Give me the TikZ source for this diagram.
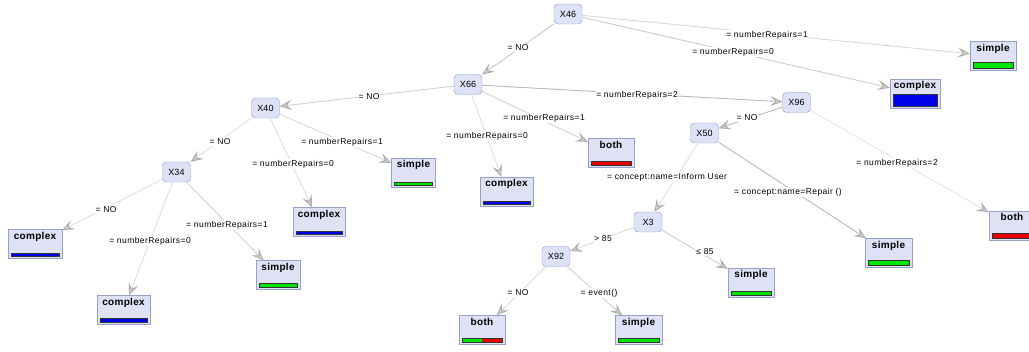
\documentclass[tikz,border=0pt]{standalone}
\usepackage{fontspec}
\setmainfont{Liberation Sans}
\newfontfamily\lblfont[LetterSpace=5]{Liberation Sans}
\newfontfamily\leaffont[LetterSpace=3]{Liberation Sans}
\usetikzlibrary{arrows.meta,calc}
\definecolor{nfill}{RGB}{221,226,246}
\definecolor{nline}{RGB}{138,152,200}
\definecolor{lfill}{RGB}{222,226,244}
\definecolor{lline}{RGB}{150,160,200}
\definecolor{bgreen}{RGB}{0,230,0}
\definecolor{bblue}{RGB}{0,0,235}
\definecolor{bred}{RGB}{235,0,0}
\newcommand\leafbar[3]{\draw[barline, fill=#2] ($(#1.south west)+(3,-2)$) rectangle ($(#1.south east)+(-3,-2-#3)$);}
\begin{document}
\begin{tikzpicture}[x=1pt,y=-1pt,
  inode/.style={draw=nline, fill=nfill, rounded corners=4pt, minimum width=28pt, minimum height=20pt, inner sep=0pt, font=\fontsize{9}{10}\selectfont},
  leaf/.style={draw=lline, fill=lfill, minimum height=29pt, inner xsep=0pt, inner ysep=1.5pt, text height=8.5pt, text depth=17.5pt, font=\leaffont\bfseries\fontsize{10}{11}\selectfont},
  conn/.style={draw=gray!45, line width=0.9pt, -{Stealth[length=12pt,width=10pt,inset=5pt,color=gray!65,fill=gray!35]}},
  lbl/.style={fill=white, inner sep=0.6pt, font=\lblfont\fontsize{8.5}{10}\selectfont},
  barline/.style={draw=black!80, line width=0.6pt}]
\useasboundingbox (0,0) rectangle (1029,352);
% internal nodes
\node[inode] (x46) at (568,14) {X46};
\node[inode] (x66) at (468,84.5) {X66};
\node[inode] (x40) at (265.5,108) {X40};
\node[inode] (x34) at (176.5,172) {X34};
\node[inode] (x96) at (796.5,102.5) {X96};
\node[inode] (x50) at (704.5,133) {X50};
\node[inode] (x3) at (648,222) {X3};
\node[inode] (x92) at (556,256.5) {X92};
% leaves
\node[leaf, minimum width=46pt] (l1) at (993,56) {simple};
\node[leaf, minimum width=50pt] (l2) at (915,93.5) {complex};
\node[leaf, minimum width=52pt] (l3) at (319,222) {complex};
\node[leaf, minimum width=44pt] (l4) at (413.5,172.5) {simple};
\node[leaf, minimum width=54pt] (l5) at (35,244) {complex};
\node[leaf, minimum width=53pt] (l6) at (123.5,310) {complex};
\node[leaf, minimum width=44pt] (l7) at (278,275) {simple};
\node[leaf, minimum width=53pt] (l8) at (506.5,191.5) {complex};
\node[leaf, minimum width=46pt] (l9) at (611,153) {both};
\node[leaf, minimum width=47pt] (l10) at (888.5,253) {simple};
\node[leaf, minimum width=46pt] (l11) at (1012,225.5) {both};
\node[leaf, minimum width=46pt] (l12) at (751,282.5) {simple};
\node[leaf, minimum width=47pt] (l13) at (638.5,330) {simple};
\node[leaf, minimum width=46pt] (l14) at (482,330) {both};
% bars
\leafbar{l1}{bgreen}{6}
\leafbar{l2}{bblue}{12}
\leafbar{l3}{bblue}{3}
\leafbar{l4}{bgreen}{3}
\leafbar{l5}{bblue}{3}
\leafbar{l6}{bblue}{4}
\leafbar{l7}{bgreen}{4}
\leafbar{l8}{bblue}{3}
\leafbar{l9}{bred}{4}
\leafbar{l10}{bgreen}{5}
\leafbar{l11}{bred}{5}
\leafbar{l12}{bgreen}{4}
\leafbar{l13}{bgreen}{4}
\fill[bgreen] ($(l14.south west)+(3,-2)$) rectangle ($(l14.south)+(0,-6)$);
\fill[bred] ($(l14.south)+(0,-2)$) rectangle ($(l14.south east)+(-3,-6)$);
\draw[barline] ($(l14.south west)+(3,-2)$) rectangle ($(l14.south east)+(-3,-6)$);
% connectors
\draw[conn, draw=gray!30] (x46) -- (l1);
\draw[conn, draw=gray!40] (x46) -- (l2);
\draw[conn, draw=gray!45] (x46) -- (x66);
\draw[conn, draw=gray!35] (x66) -- (x40);
\draw[conn, draw=gray!55] (x66) -- (x96);
\draw[conn, draw=gray!35] (x66) -- (l9);
\draw[conn, draw=gray!25] (x66) -- (l8);
\draw[conn, draw=gray!25] (x40) -- (x34);
\draw[conn, draw=gray!30] (x40) -- (l4);
\draw[conn, draw=gray!25] (x40) -- (l3);
\draw[conn, draw=gray!25] (x34) -- (l5);
\draw[conn, draw=gray!25] (x34) -- (l6);
\draw[conn, draw=gray!35] (x34) -- (l7);
\draw[conn, draw=gray!55] (x96) -- (x50);
\draw[conn, draw=gray!20] (x96) -- (l11);
\draw[conn, draw=gray!25] (x50) -- (x3);
\draw[conn, draw=gray!55] (x50) -- (l10);
\draw[conn, draw=gray!30] (x3) -- (x92);
\draw[conn, draw=gray!40] (x3) -- (l12);
\draw[conn, draw=gray!25] (x92) -- (l14);
\draw[conn, draw=gray!35] (x92) -- (l13);
% labels
\node[lbl] (e1) at (767,35) {= numberRepairs=1};
\node[lbl] (e2) at (733,52) {= numberRepairs=0};
\node[lbl] (e3) at (518,48) {= NO};
\node[lbl] (e4) at (369,97) {= NO};
\node[lbl] (e5) at (637,95) {= numberRepairs=2};
\node[lbl] (e6) at (544,118) {= numberRepairs=1};
\node[lbl] (e7) at (487,136) {= numberRepairs=0};
\node[lbl] (e8) at (220,142) {= NO};
\node[lbl] (e9) at (342,142) {= numberRepairs=1};
\node[lbl] (e10) at (293,164) {= numberRepairs=0};
\node[lbl] (e11) at (106,210) {= NO};
\node[lbl] (e12) at (150,241) {= numberRepairs=0};
\node[lbl] (e13) at (227,225) {= numberRepairs=1};
\node[lbl] (e14) at (747,118) {= NO};
\node[lbl] (e15) at (897,163) {= numberRepairs=2};
\node[lbl] (e16) at (667,177) {= concept:name=Inform User};
\node[lbl] (e17) at (788,192) {= concept:name=Repair ()};
\node[lbl] (e18) at (603,239) {> 85};
\node[lbl] (e19) at (705,252) {≤ 85};
\node[lbl] (e20) at (518,293) {= NO};
\node[lbl] (e21) at (599,293) {= event()};
\end{tikzpicture}
\end{document}
